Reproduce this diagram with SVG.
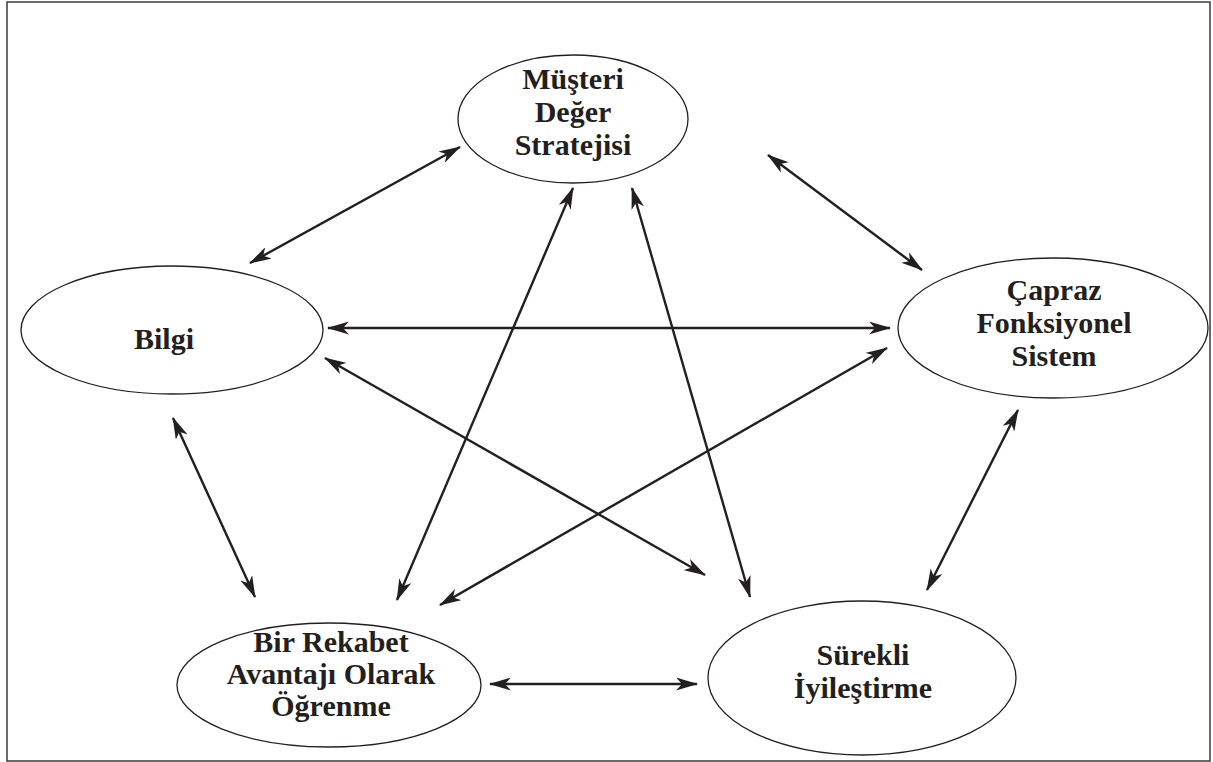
<svg xmlns="http://www.w3.org/2000/svg" width="1213" height="762" viewBox="0 0 1213 762">
  <style>
    .node ellipse { fill: #ffffff; stroke: #231f20; stroke-width: 1.3; }
    .node text { font-family: 'Liberation Serif', 'Times New Roman', serif; font-weight: bold; font-size: 30px; fill: #231f20; text-anchor: middle; }
    .links line { stroke: #231f20; stroke-width: 2.4; marker-start: url(#head); marker-end: url(#head); }
  </style>
  <defs>
    <!-- barbed arrowhead shared by both ends of every connector -->
    <marker id="head" viewBox="0 0 22 13" refX="21" refY="6.5" markerWidth="22" markerHeight="13" markerUnits="userSpaceOnUse" orient="auto-start-reverse">
      <path d="M0,0 L22,6.5 L0,13 L6,6.5 Z" fill="#231f20"/>
    </marker>
  </defs>

  <!-- frame -->
  <rect x="7" y="2" width="1203" height="759" fill="#ffffff" stroke="#3a3a3a" stroke-width="1.5"/>

  <g id="n-musteri" class="node">
    <ellipse cx="573" cy="119" rx="115" ry="64"/>
    <text x="573" y="89">Müşteri</text>
    <text x="573" y="122">Değer</text>
    <text x="573" y="155">Stratejisi</text>
  </g>

  <g id="n-bilgi" class="node">
    <ellipse cx="172" cy="330" rx="151" ry="64"/>
    <text x="164" y="349">Bilgi</text>
  </g>

  <g id="n-capraz" class="node">
    <ellipse cx="1053" cy="328" rx="155" ry="70"/>
    <text x="1054" y="300">Çapraz</text>
    <text x="1054" y="333">Fonksiyonel</text>
    <text x="1054" y="366">Sistem</text>
  </g>

  <g id="n-rekabet" class="node">
    <ellipse cx="329" cy="685" rx="152" ry="62"/>
    <text x="331" y="652">Bir Rekabet</text>
    <text x="331" y="684">Avantajı Olarak</text>
    <text x="331" y="716">Öğrenme</text>
  </g>

  <g id="n-surekli" class="node">
    <ellipse cx="862" cy="678" rx="154" ry="77"/>
    <text x="863" y="665">Sürekli</text>
    <text x="863" y="698">İyileştirme</text>
  </g>

  <g id="links" class="links">
    <line x1="250" y1="263" x2="460" y2="147"/>
    <line x1="768" y1="155" x2="922" y2="270"/>
    <line x1="328" y1="328" x2="890" y2="328"/>
    <line x1="173" y1="418" x2="255" y2="597"/>
    <line x1="397" y1="600" x2="573" y2="188"/>
    <line x1="632" y1="188" x2="750" y2="597"/>
    <line x1="325" y1="358" x2="705" y2="575"/>
    <line x1="887" y1="348" x2="440" y2="605"/>
    <line x1="1018" y1="410" x2="927" y2="590"/>
    <line x1="490" y1="684" x2="697" y2="684"/>
  </g>
</svg>
